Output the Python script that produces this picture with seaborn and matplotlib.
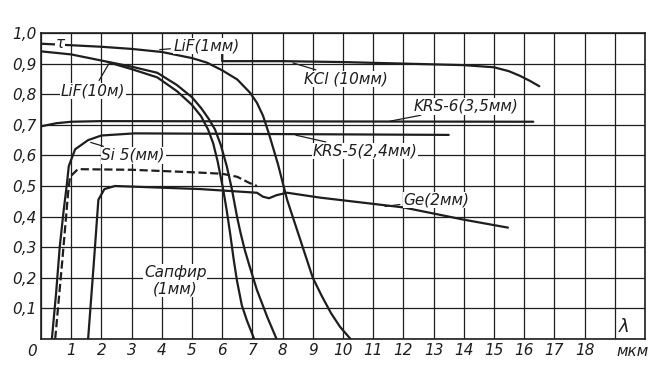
import matplotlib
matplotlib.use("Agg")
import matplotlib.pyplot as plt
import seaborn as sns
import numpy as np

# transmission curves (wavelength in um, tau)
lif1_x = [0, 1, 2, 3, 4, 5, 5.5, 6.0, 6.5, 6.92, 7.15, 7.35, 7.55, 7.7, 7.85, 7.98, 8.15, 8.4, 8.7, 9.0, 9.3, 9.6, 9.9, 10.25]
lif1_y = [0.965, 0.96, 0.955, 0.948, 0.938, 0.918, 0.903, 0.878, 0.848, 0.805, 0.772, 0.73, 0.67, 0.62, 0.57, 0.52, 0.455, 0.38, 0.29, 0.2, 0.14, 0.085, 0.04, 0.0]

lif10_x = [0, 1, 2, 3, 3.85, 4.5, 5.0, 5.3, 5.55, 5.76, 5.95, 6.15, 6.32, 6.49, 6.6, 6.75, 6.9, 7.15, 7.5, 7.8]
lif10_y = [0.94, 0.93, 0.91, 0.89, 0.87, 0.83, 0.79, 0.755, 0.72, 0.685, 0.635, 0.565, 0.49, 0.4, 0.35, 0.29, 0.24, 0.16, 0.07, 0.0]

sapph_x = [2.2, 3.0, 3.85, 4.5, 5.0, 5.3, 5.53, 5.7, 5.85, 6.03, 6.15, 6.27, 6.38, 6.49, 6.65, 6.82, 7.06]
sapph_y = [0.905, 0.882, 0.855, 0.81, 0.765, 0.728, 0.685, 0.64, 0.58, 0.49, 0.42, 0.34, 0.26, 0.19, 0.11, 0.06, 0.0]

kcl_x = [6.0, 6.0, 8, 10, 12, 14, 15, 15.5, 15.86, 16.2, 16.5]
kcl_y = [0.93, 0.908, 0.908, 0.905, 0.9, 0.895, 0.888, 0.875, 0.86, 0.843, 0.826]

krs6_x = [0, 0.5, 1.0, 2.0, 16.3]
krs6_y = [0.695, 0.705, 0.71, 0.712, 0.71]

krs5_x = [0.36, 0.5, 0.62, 0.75, 0.85, 0.92, 1.13, 1.56, 2.0, 3.1, 13.5]
krs5_y = [0.0, 0.15, 0.3, 0.42, 0.5, 0.565, 0.62, 0.65, 0.665, 0.672, 0.667]

si_x = [0.47, 0.7, 0.9, 0.96, 1.22, 3.0, 5.0, 6.0, 6.5, 6.9, 7.15]
si_y = [0.0, 0.25, 0.48, 0.53, 0.555, 0.553, 0.545, 0.54, 0.53, 0.51, 0.5]

ge_x = [1.56, 1.75, 1.9, 2.1, 2.45, 5.26, 7.15, 7.35, 7.55, 7.8, 8.15, 9.24, 12.0, 14.0, 15.46]
ge_y = [0.0, 0.25, 0.455, 0.49, 0.5, 0.49, 0.478, 0.465, 0.46, 0.47, 0.478, 0.462, 0.43, 0.39, 0.364]

x_ticks = list(range(0, 21))
y_ticks = [round(0.1 * i, 1) for i in range(11)]
x_labels = [str(v) if 1 <= v <= 18 else "" for v in x_ticks]
y_labels = ["" if v == 0 else f"{v:.1f}".replace(".", ",") for v in y_ticks]

sns.set_style("white")
plt.rcParams["font.family"] = ["DejaVu Sans"]
ink = "#1e1e1e"

fig = plt.figure(figsize=(6.55, 3.81), dpi=100)
ax = fig.add_axes([41 / 655, 42 / 381, 604 / 655, 306 / 381])

curves = [
    (lif1_x, lif1_y, "-"),
    (lif10_x, lif10_y, "-"),
    (sapph_x, sapph_y, "-"),
    (kcl_x, kcl_y, "-"),
    (krs6_x, krs6_y, "-"),
    (krs5_x, krs5_y, "-"),
    (si_x, si_y, "--"),
    (ge_x, ge_y, "-"),
]
for xs, ys, ls in curves:
    sns.lineplot(x=xs, y=ys, ax=ax, sort=False, estimator=None,
                 color=ink, linewidth=1.6, linestyle=ls, zorder=3)

ax.set_xlim(0, 20)
ax.set_ylim(0, 1.0)
ax.set_xticks(x_ticks)
ax.set_yticks(y_ticks)
ax.set_xticklabels(x_labels, fontsize=11, style="italic", color=ink)
ax.set_yticklabels(y_labels, fontsize=11, style="italic", color=ink)
ax.tick_params(length=0, pad=3)
ax.grid(True, color=ink, linewidth=0.9)
for sp in ax.spines.values():
    sp.set_color(ink)
    sp.set_linewidth(1.2)

tk = dict(fontsize=11, style="italic", color=ink, zorder=4,
          bbox=dict(facecolor="white", edgecolor="none", pad=0.5))
ln = dict(arrowstyle="-", color=ink, linewidth=0.9)

ax.text(0.63, 0.967, "τ", ha="center", va="center", **tk)
ax.annotate("LiF(1мм)", xy=(3.84, 0.945), xytext=(4.4, 0.958),
            ha="left", va="center", arrowprops=ln, **tk)
ax.annotate("LiF(10м)", xy=(2.28, 0.905), xytext=(0.65, 0.81),
            ha="left", va="center", arrowprops=ln, **tk)
ax.annotate("KCl (10мм)", xy=(8.25, 0.905), xytext=(8.7, 0.85),
            ha="left", va="center", arrowprops=ln, **tk)
ax.annotate("KRS-6(3,5мм)", xy=(11.46, 0.71), xytext=(12.35, 0.76),
            ha="left", va="center", arrowprops=ln, **tk)
ax.annotate("KRS-5(2,4мм)", xy=(8.35, 0.668), xytext=(9.0, 0.615),
            ha="left", va="center", arrowprops=ln, **tk)
ax.annotate("Si 5(мм)", xy=(1.56, 0.645), xytext=(2.0, 0.6),
            ha="left", va="center", arrowprops=ln, **tk)
ax.annotate("Ge(2мм)", xy=(11.3, 0.432), xytext=(12.0, 0.455),
            ha="left", va="center", arrowprops=ln, **tk)
ax.text(4.45, 0.19, "Сапфир\n(1мм)", ha="center", va="center",
        linespacing=1.1, **tk)
ax.text(19.3, 0.04, "λ", ha="center", va="center", fontsize=13,
        style="italic", color=ink, zorder=4,
        bbox=dict(facecolor="white", edgecolor="none", pad=0.5))
ax.text(19.6, -0.015, "мкм", ha="center", va="top", fontsize=11,
        style="italic", color=ink)
ax.text(-0.28, -0.015, "0", ha="center", va="top", fontsize=11,
        style="italic", color=ink)

fig.savefig("out.png", dpi=100, facecolor="white")
